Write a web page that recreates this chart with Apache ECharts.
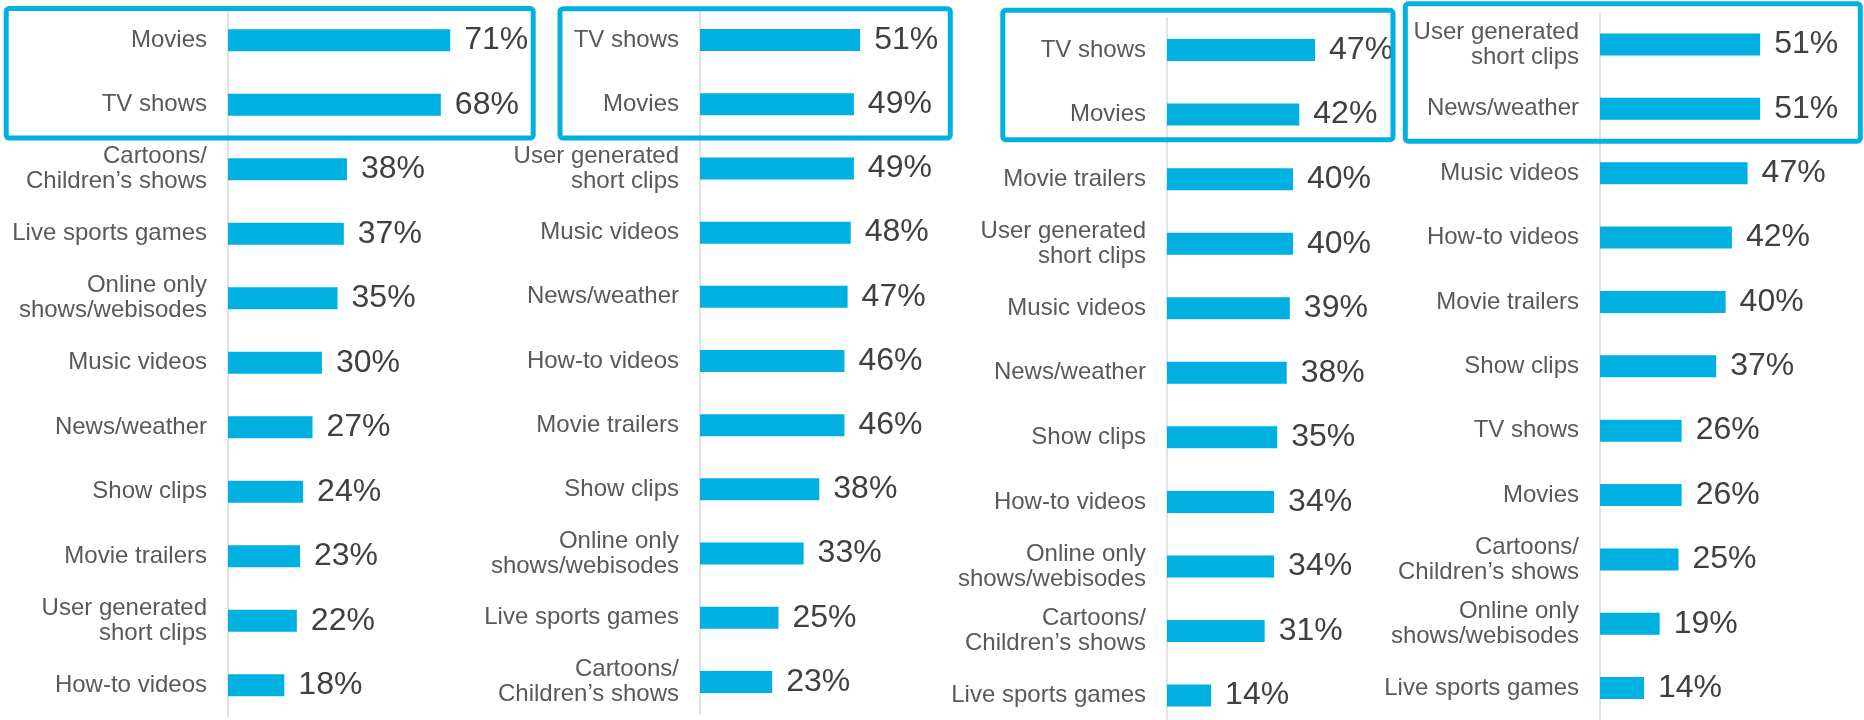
<!DOCTYPE html>
<html>
<head>
<meta charset="utf-8">
<style>
  html, body { margin: 0; padding: 0; background: #fff; overflow: hidden; }
  /* a little taller than the window so the third panel's axis can run past the bottom edge */
  #chart { width: 1864px; height: 740px; }
</style>
<script src="https://cdn.jsdelivr.net/npm/echarts@6/dist/echarts.min.js"></script>
</head>
<body>
<div id="chart"></div>
<script>
// panel 1
const cats1 = ['Movies', 'TV shows', 'Cartoons/\nChildren’s shows', 'Live sports games', 'Online only\nshows/webisodes',
  'Music videos', 'News/weather', 'Show clips', 'Movie trailers', 'User generated\nshort clips', 'How-to videos'];
const vals1 = [71, 68, 38, 37, 35, 30, 27, 24, 23, 22, 18];

// panel 2
const cats2 = ['TV shows', 'Movies', 'User generated\nshort clips', 'Music videos', 'News/weather', 'How-to videos',
  'Movie trailers', 'Show clips', 'Online only\nshows/webisodes', 'Live sports games', 'Cartoons/\nChildren’s shows'];
const vals2 = [51, 49, 49, 48, 47, 46, 46, 38, 33, 25, 23];

// panel 3
const cats3 = ['TV shows', 'Movies', 'Movie trailers', 'User generated\nshort clips', 'Music videos', 'News/weather',
  'Show clips', 'How-to videos', 'Online only\nshows/webisodes', 'Cartoons/\nChildren’s shows', 'Live sports games'];
const vals3 = [47, 42, 40, 40, 39, 38, 35, 34, 34, 31, 14];

// panel 4
const cats4 = ['User generated\nshort clips', 'News/weather', 'Music videos', 'How-to videos', 'Movie trailers',
  'Show clips', 'TV shows', 'Movies', 'Cartoons/\nChildren’s shows', 'Online only\nshows/webisodes', 'Live sports games'];
const vals4 = [51, 51, 47, 42, 40, 37, 26, 26, 25, 19, 14];

const panels = [
  { cats: cats1, vals: vals1, grid: { left: 228, top: 8, width: 250.4, height: 709.5 }, max: 80 },
  { cats: cats2, vals: vals2, grid: { left: 700, top: 8, width: 188.4, height: 706 }, max: 60 },
  { cats: cats3, vals: vals3, grid: { left: 1167, top: 17.8, width: 189, height: 710 }, max: 60 },
  { cats: cats4, vals: vals4, grid: { left: 1600, top: 12.3, width: 188.4, height: 708 }, max: 60 },
];

// highlight frames round the top two rows of each panel
const boxes = [
  [6.2, 8.6, 527, 129.4],
  [560, 8.7, 390.3, 129.3],
  [1002.8, 10.3, 390.2, 129.4],
  [1405.3, 3.8, 455, 137.4],
];

const FONT = '"Liberation Sans", Arial, sans-serif';
const BLUE = '#00b0e0';

const chart = echarts.init(document.getElementById('chart'));

const option = {
  animation: false,
  backgroundColor: '#fff',
  grid: panels.map((p) => Object.assign({ containLabel: false }, p.grid)),
  xAxis: panels.map((p, i) => ({
    type: 'value',
    gridIndex: i,
    min: 0,
    max: p.max,
    show: false,
  })),
  yAxis: panels.map((p, i) => ({
    type: 'category',
    gridIndex: i,
    inverse: true,
    data: p.cats,
    axisLine: { show: true, lineStyle: { color: '#d9d9d9', width: 1.5 } },
    axisTick: { show: false },
    splitLine: { show: false },
    axisLabel: {
      margin: 21,
      color: '#595959',
      fontSize: 24,
      lineHeight: 25,
      fontFamily: FONT,
      align: 'right',
    },
  })),
  series: panels.map((p, i) => ({
    type: 'bar',
    xAxisIndex: i,
    yAxisIndex: i,
    data: p.vals,
    barWidth: 22,
    itemStyle: { color: BLUE },
    label: {
      show: true,
      position: 'right',
      distance: 14,
      formatter: '{c}%',
      color: '#404040',
      fontSize: 32,
      fontFamily: FONT,
    },
  })),
  graphic: boxes.map((b) => ({
    type: 'rect',
    z: 100,
    shape: { x: b[0], y: b[1], width: b[2], height: b[3], r: 3 },
    style: { fill: null, stroke: BLUE, lineWidth: 5 },
  })),
};

chart.setOption(option);
</script>
</body>
</html>
